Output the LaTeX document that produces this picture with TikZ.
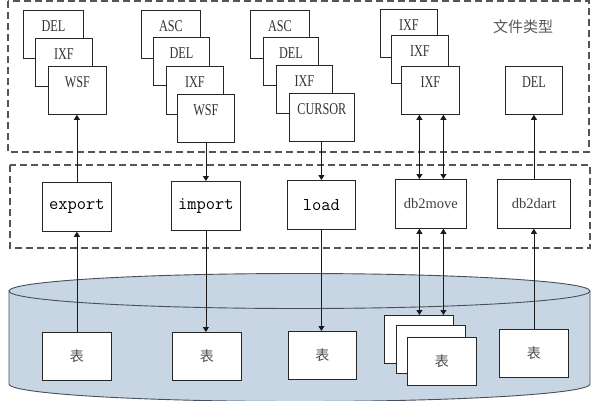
\documentclass[tikz,border=0pt]{standalone}
\usepackage{fontspec}
\setmainfont{Liberation Serif}
\newfontfamily\ftfont[FakeStretch=0.74]{Liberation Serif}
\newfontfamily\cjk{Noto Sans CJK SC}
\usetikzlibrary{arrows.meta}
\definecolor{cylfill}{RGB}{200,214,228}
\definecolor{cylline}{RGB}{70,80,92}
\definecolor{dashc}{RGB}{85,85,85}
\tikzset{
  fbox/.style={draw=black!85, line width=0.8pt, fill=white, minimum width=58pt, minimum height=48pt, inner sep=0pt, anchor=north west},
  ftext/.style={font=\fontsize{16.5}{18}\ftfont, text=black!80, anchor=north, inner sep=0pt, yshift=-10pt},
  cbox/.style={draw=black!85, line width=0.8pt, fill=white, minimum width=69pt, minimum height=49pt, inner sep=0pt, anchor=north west},
  tttext/.style={font=\fontsize{18}{20}\ttfamily, text=black},
  sftext/.style={font=\fontsize{14.5}{16}\selectfont, text=black!75},
  tbox/.style={draw=black!85, line width=0.8pt, fill=white, minimum width=69pt, minimum height=48pt, inner sep=0pt, anchor=north west, font=\fontsize{14}{16}\cjk, text=black!70},
  dbox/.style={draw=dashc, line width=1.1pt, dash pattern=on 7pt off 4pt},
  arr/.style={line width=0.8pt, draw=black!90, -{Triangle[length=5pt,width=6pt]}},
  darr/.style={line width=0.8pt, draw=black!90, {Triangle[length=5pt,width=6pt]}-{Triangle[length=5pt,width=6pt]}},
}
\begin{document}
\begin{tikzpicture}[x=1pt,y=-1pt]
\clip (0,0) rectangle (600,400);
\fill[white] (0,0) rectangle (600,400);

% cylinder
\fill[cylfill] (9,291) -- (9,384) arc[start angle=180,end angle=360,x radius=290.5pt,y radius=17.5pt] -- (590,291) arc[start angle=0,end angle=180,x radius=290.5pt,y radius=17.5pt] -- cycle;
\draw[cylline, line width=0.9pt] (9,291) -- (9,384) arc[start angle=180,end angle=360,x radius=290.5pt,y radius=17.5pt] -- (590,291);
\draw[cylline, line width=0.9pt] (299.5,291) ellipse[x radius=290.5pt,y radius=17.5pt];

% dashed frames
\draw[dbox] (8,1) rectangle (589,152);
\draw[dbox] (10,165) rectangle (590,248);

\node[font=\fontsize{15}{17}\cjk, text=black!65] (lbl) at (523,27) {文件类型};

% group 1
\node[fbox, minimum width=60pt] (a1) at (23,10) {};
\node[ftext] (a1t) at (a1.north) {DEL};
\node[fbox, minimum width=57pt] (a2) at (35,38) {};
\node[ftext] (a2t) at (a2.north) {IXF};
\node[fbox] (a3) at (48,66) {};
\node[ftext] (a3t) at (a3.north) {WSF};

% group 2
\node[fbox, minimum width=59pt] (b1) at (141,10) {};
\node[ftext] (b1t) at (b1.north) {ASC};
\node[fbox, minimum width=56pt] (b2) at (153,37) {};
\node[ftext] (b2t) at (b2.north) {DEL};
\node[fbox, minimum width=57pt] (b3) at (166,66) {};
\node[ftext] (b3t) at (b3.north) {IXF};
\node[fbox, minimum width=57pt] (b4) at (177,94) {};
\node[ftext] (b4t) at (b4.north) {WSF};

% group 3
\node[fbox, minimum width=59pt] (c1) at (250,10) {};
\node[ftext] (c1t) at (c1.north) {ASC};
\node[fbox, minimum width=55pt] (c2) at (263,37) {};
\node[ftext] (c2t) at (c2.north) {DEL};
\node[fbox, minimum width=56pt] (c3) at (276,65) {};
\node[ftext] (c3t) at (c3.north) {IXF};
\node[fbox, minimum width=65pt] (c4) at (289,93) {};
\node[ftext] (c4t) at (c4.north) {CURSOR};

% group 4
\node[fbox, minimum width=57pt] (d1) at (380,9) {};
\node[ftext] (d1t) at (d1.north) {IXF};
\node[fbox, minimum width=57pt] (d2) at (391,35) {};
\node[ftext] (d2t) at (d2.north) {IXF};
\node[fbox] (d3) at (401,66) {};
\node[ftext] (d3t) at (d3.north) {IXF};

% group 5
\node[fbox, minimum width=57pt] (e1) at (505,66) {};
\node[ftext] (e1t) at (e1.north) {DEL};

% commands
\node[cbox, tttext] (export) at (42,182) {export};
\node[cbox, tttext] (import) at (171,181) {import};
\node[cbox, tttext, minimum width=68pt] (load) at (287,180) {load};
\node[cbox, sftext, minimum width=71pt] (db2move) at (395,179) {db2move};
\node[cbox, sftext, minimum width=73pt] (db2dart) at (497,179) {db2dart};

% tables
\node[tbox] (t1) at (42,332) {表};
\node[tbox] (t2) at (172,332) {表};
\node[tbox, minimum width=68pt] (t3) at (288,331) {表};
\node[tbox] (t4a) at (384,315) {};
\node[tbox] (t4b) at (396,325) {};
\node[tbox] (t4) at (407,337) {表};
\node[tbox] (t5) at (499,329) {表};

% arrows
\draw[arr] (t1.north) -- (t1.north |- export.south);
\draw[arr] (export.north) -- (export.north |- a3.south);

\draw[arr] (b4.south) -- (b4.south |- import.north);
\draw[arr] (import.south) -- (import.south |- t2.north);

\draw[arr] (load.north |- c4.south) -- (load.north);
\draw[arr] (load.south) -- (load.south |- t3.north);

\coordinate (m1) at ([xshift=-11.5pt]db2move.north);
\coordinate (m2) at ([xshift=12.5pt]db2move.north);
\coordinate (m3) at ([xshift=-11.5pt]db2move.south);
\coordinate (m4) at ([xshift=12.5pt]db2move.south);
\draw[darr] (m1 |- d3.south) -- (m1);
\draw[darr] (m2 |- d3.south) -- (m2);
\draw[darr] (m3) -- (m3 |- t4a.north);
\draw[darr] (m4) -- (m4 |- t4a.north);

\draw[arr] (t5.north) -- (t5.north |- db2dart.south);
\draw[arr] (db2dart.north) -- (db2dart.north |- e1.south);
\end{tikzpicture}
\end{document}
